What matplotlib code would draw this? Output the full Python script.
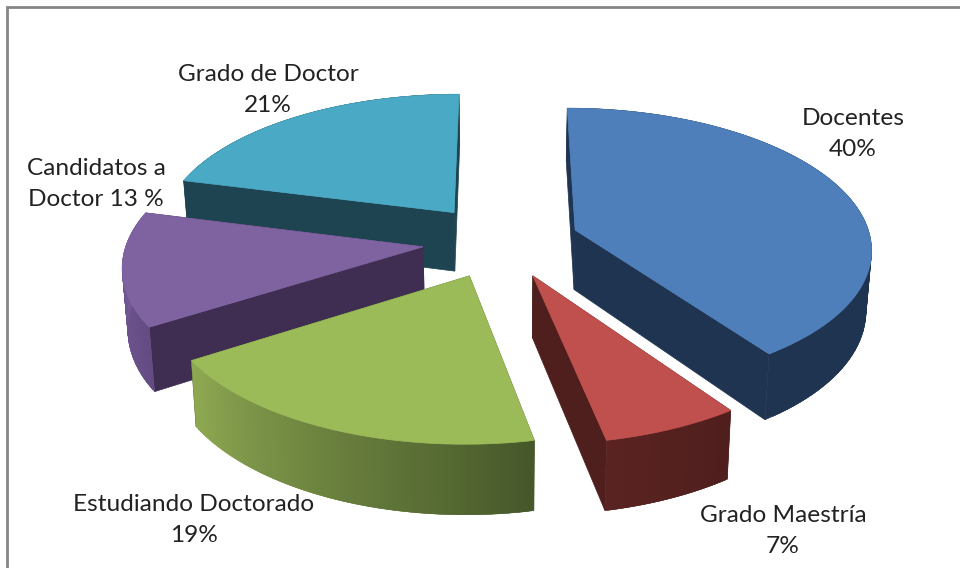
import numpy as np
import matplotlib
matplotlib.use('Agg')
import matplotlib.pyplot as plt
from matplotlib.colors import to_rgb
from matplotlib.patches import Polygon, Rectangle

# Data
labels = ['Docentes\n40%', 'Grado Maestría\n7%', 'Estudiando Doctorado\n19%',
          'Candidatos a\nDoctor 13 %', 'Grado de Doctor\n21%']
values = [40.3, 6.5, 19.2, 13, 21]  # slice sizes as drawn, labels are rounded

# colours: top, cut face, outer wall at the start and end of the slice
tops = ['#4f7fbb', '#c0504d', '#9bbb59', '#7f63a1', '#4aa9c4']
faces = ['#1f3450', '#4f1f1d', '#46582a', '#3f2e52', '#1d4450']
wall_a = ['#1f3450', '#4f1f1d', '#46582a', '#644c83', '#1d4450']
wall_b = ['#1f3450', '#5a2321', '#8ea852', '#7a5f9d', '#1d4450']
label_pos = [(853, 134), (783, 531), (194, 520), (96, 184), (268, 90)]

# pie geometry (pixels)
cx, cy = 501, 241
rx, ry = 296, 139
depth = 60
explode = 0.265
persp = 0.12


def project(x, y, low=False):
    s = 1 / (1 + persp * y)
    px = rx * x * s
    py = cy - ry * y * s
    if low:
        return cx + px * 0.985, py + depth * s
    return cx + px, py


def mix(c1, c2, t):
    return tuple(a + (b - a) * t for a, b in zip(to_rgb(c1), to_rgb(c2)))


fig = plt.figure(figsize=(9.6, 5.68), dpi=100)
ax = fig.add_axes([0, 0, 1, 1])
ax.set_xlim(0, 960)
ax.set_ylim(568, 0)
ax.axis('off')
ax.add_patch(Rectangle((7, 7), 1000, 600, fc='white', ec='#868686', lw=2))

edges = np.cumsum([0] + values) / sum(values) * 2 * np.pi
order = [4, 0, 3, 1, 2]  # back to front

for i in order:
    a0, a1 = edges[i], edges[i + 1]
    mid = (a0 + a1) / 2
    ox, oy = explode * np.sin(mid), explode * np.cos(mid)
    t = np.linspace(a0, a1, 80)
    xs = ox + np.sin(t)
    ys = oy + np.cos(t)

    # cut faces
    for k in (0, -1):
        quad = [project(ox, oy), project(xs[k], ys[k]),
                project(xs[k], ys[k], True), project(ox, oy, True)]
        ax.add_patch(Polygon(quad, fc=faces[i], ec=faces[i], lw=0.5))

    # outer wall in overlapping pieces, for the gradient
    upper = [project(x, y) for x, y in zip(xs, ys)]
    lower = [project(x, y, True) for x, y in zip(xs, ys)]
    for j in range(len(t) - 2):
        quad = [upper[j], upper[j + 2], lower[j + 2], lower[j]]
        col = mix(wall_a[i], wall_b[i], j / (len(t) - 3))
        ax.add_patch(Polygon(quad, fc=col, ec=col, lw=0.3))

    # top
    pts = [project(ox, oy)] + upper
    ax.add_patch(Polygon(pts, fc=tops[i], ec=tops[i], lw=0.5))

for lab, (x, y) in zip(labels, label_pos):
    ax.text(x, y, lab, ha='center', va='center', fontsize=17.6, family='Lato',
            color='#222222', linespacing=1.58)

fig.savefig('out.png', dpi=100)
